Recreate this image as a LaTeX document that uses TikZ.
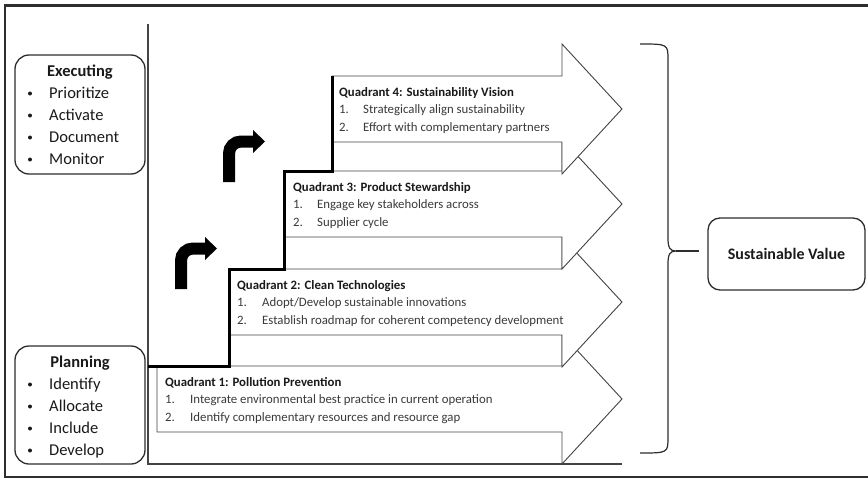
\documentclass[tikz,border=0pt]{standalone}
\usepackage{fontspec}
\setmainfont{Carlito}
\definecolor{ln}{HTML}{444444}
\definecolor{bx}{HTML}{2E2E2E}
\definecolor{tx}{HTML}{3A3A3A}
\definecolor{tt}{HTML}{1A1A1A}
\newcommand\qarr[2]{%
  \draw[qarrow] (#1,#2-33) -- (562,#2-33) -- (562,#2-65) -- (622,#2) -- (562,#2+65) -- (562,#2+33) -- (#1,#2+33) -- cycle;}
\begin{document}
\begin{tikzpicture}[x=1pt,y=-1pt,
  qarrow/.style={draw=ln, fill=white, line width=0.9pt, line join=miter},
  qtitle/.style={anchor=base west, font=\fontsize{12.8}{14}\selectfont\bfseries, text=tt, inner sep=0pt},
  qitem/.style={anchor=base west, font=\fontsize{12.8}{14}\selectfont, text=tx, inner sep=0pt},
  sidebox/.style={draw=bx, line width=1.3pt, rounded corners=14pt, minimum width=130pt, inner sep=0pt},
  sidetitle/.style={anchor=base, font=\fontsize{16.5}{18}\selectfont\bfseries, text=tt, inner sep=0pt},
  sideitem/.style={anchor=base west, font=\fontsize{16.5}{18}\selectfont, text=tt, inner sep=0pt},
  bul/.style={anchor=center, circle, fill=tt, inner sep=0pt, minimum size=4pt},
  bentarrow/.style={line width=12pt, rounded corners=12pt, line cap=butt},
  axisline/.style={draw=ln, line width=1.2pt}]
\useasboundingbox (0,0) rectangle (868,479);
\clip (0,0) rectangle (868,479);
\fill[white] (0,0) rectangle (868,479);
% outer frame
\draw[bx, line width=2.2pt] (5,5.5) rectangle (885,477);
% axes
\coordinate (ax0) at (148,24);
\coordinate (ax1) at (148,464);
\coordinate (ax2) at (622,464);
\draw[axisline] (ax0) -- (ax1) -- (ax2);
% quadrant arrows
\qarr{157}{399}
\qarr{229}{302}
\qarr{284}{204}
\qarr{332}{109}
% staircase
\draw[black, line width=3pt, line join=miter] (148,366) -- (229,366) -- (229,269) -- (284,269) -- (284,171) -- (332,171) -- (332,76);
% quadrant texts
\node[qtitle] (q1t) at (165,386) {Quadrant 1: Pollution Prevention};
\node[qitem] (q1n1) at (165,403.5) {1.};
\node[qitem] (q1a) at (190,403.5) {Integrate environmental best practice in current operation};
\node[qitem] (q1n2) at (165,421) {2.};
\node[qitem] (q1b) at (190,421) {Identify complementary resources and resource gap};
\node[qtitle] (q2t) at (237,289) {Quadrant 2: Clean Technologies};
\node[qitem] (q2n1) at (237,306.5) {1.};
\node[qitem] (q2a) at (262,306.5) {Adopt/Develop sustainable innovations};
\node[qitem] (q2n2) at (237,324) {2.};
\node[qitem] (q2b) at (262,324) {Establish roadmap for coherent competency development};
\node[qtitle] (q3t) at (293,191) {Quadrant 3: Product Stewardship};
\node[qitem] (q3n1) at (293,208.5) {1.};
\node[qitem] (q3a) at (317,208.5) {Engage key stakeholders across};
\node[qitem] (q3n2) at (293,226) {2.};
\node[qitem] (q3b) at (317,226) {Supplier cycle};
\node[qtitle] (q4t) at (339,96) {Quadrant 4: Sustainability Vision};
\node[qitem] (q4n1) at (339,113.5) {1.};
\node[qitem] (q4a) at (363,113.5) {Strategically align sustainability};
\node[qitem] (q4n2) at (339,131) {2.};
\node[qitem] (q4b) at (363,131) {Effort with complementary partners};
% bent arrows
\draw[bentarrow] (229,182) -- (229,141.5) -- (254,141.5);
\fill (253,130) -- (265,141.5) -- (253,153) -- cycle;
\draw[bentarrow] (181,289) -- (181,248.5) -- (206,248.5);
\fill (205,237) -- (217,248.5) -- (205,260) -- cycle;
% side boxes
\node[sidebox, minimum height=119pt] (exec) at (80,114.5) {};
\node[sidetitle] (exect) at (80,76.5) {Executing};
\foreach \t [count=\i] in {Prioritize,Activate,Document,Monitor}{
  \node[bul] (eb\i) at (30,71.5+22*\i) {};
  \node[sideitem] (ei\i) at (49,76.5+22*\i) {\t};
}
\node[sidebox, minimum height=118pt] (plan) at (80,405) {};
\node[sidetitle] (plant) at (80,367.5) {Planning};
\foreach \t [count=\i] in {Identify,Allocate,Include,Develop}{
  \node[bul] (pb\i) at (30,362.5+22*\i) {};
  \node[sideitem] (pi\i) at (49,367.5+22*\i) {\t};
}
% brace
\coordinate (cusp) at (676,251);
\draw[bx, line width=1.2pt] (640,44) .. controls (668,44) .. (668,60) -- (668,238) .. controls (668,248) and (670,251) .. (cusp) .. controls (670,251) and (668,254) .. (668,264) -- (668,437) .. controls (668,453) .. (640,453);
% sustainable value
\node[draw=bx, line width=1.3pt, rounded corners=12pt, minimum width=157pt, minimum height=72pt, font=\fontsize{16}{18}\selectfont\bfseries, text=tt] (sv) at (786.5,254) {Sustainable Value};
\draw[bx, line width=1.2pt] (cusp) -- ([xshift=-8pt]sv.west |- cusp);
\end{tikzpicture}
\end{document}
